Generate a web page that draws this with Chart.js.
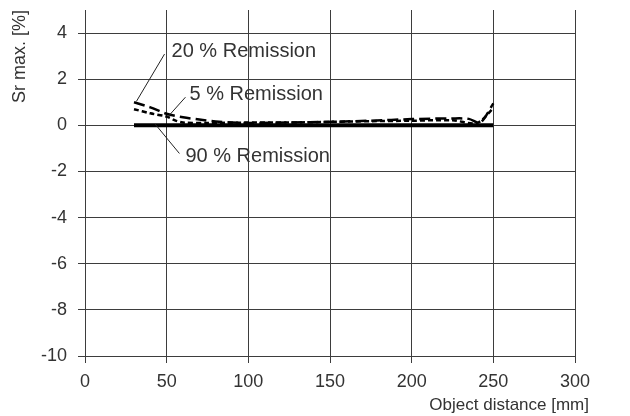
<!DOCTYPE html>
<html>
<head>
<meta charset="utf-8">
<script src="https://cdn.jsdelivr.net/npm/chart.js@4/dist/chart.umd.min.js"></script>
<style>
  html, body { margin: 0; padding: 0; background: #fff; }
  canvas { display: block; }
</style>
</head>
<body>
<canvas id="c" width="630" height="416"></canvas>
<script>
// ---- Data ----
const xTickValues = [0, 50, 100, 150, 200, 250, 300];
const yTickValues = [-10, -8, -6, -4, -2, 0, 2, 4];

const remission20X = [30, 40, 50, 60, 70, 80, 90, 100, 125, 150, 175, 200, 225, 235, 242, 250];
const remission20Y = [1.0, 0.78, 0.5, 0.35, 0.25, 0.17, 0.12, 0.1, 0.12, 0.15, 0.2, 0.27, 0.3, 0.28, 0.12, 0.95];

const remission5X = [30, 40, 50, 55, 60, 75, 100, 125, 150, 175, 200, 225, 240, 250];
const remission5Y = [0.7, 0.52, 0.38, 0.22, 0.12, 0.1, 0.12, 0.12, 0.15, 0.18, 0.2, 0.22, 0.1, 0.75];

const remission90X = [30, 250];
const remission90Y = [0, 0];

const seriesLabels = ['20 % Remission', '5 % Remission', '90 % Remission'];
const xAxisTitle = 'Object distance [mm]';
const yAxisTitle = 'Sr max. [%]';

// ---- Build chart ----
const toPoints = (xs, ys) => xs.map((x, i) => ({ x: x, y: ys[i] }));

const TEXT = '#333';
const GRID = '#3d3d3d';
const FONT = 'Liberation Sans, Arial, sans-serif';

// annotation anchors in data units (text anchor, leader line from -> to)
const callouts = [
  { text: seriesLabels[0], tx: 53, ty: 3.2, from: [48.7, 3.09], to: [31.5, 1.04] },
  { text: seriesLabels[1], tx: 64, ty: 1.33, from: [61.5, 1.22], to: [50.5, 0.35] },
  { text: seriesLabels[2], tx: 61.5, ty: -1.35, from: [57.8, -1.22], to: [43, 0.05] }
];

const calloutPlugin = {
  id: 'callouts',
  afterDatasetsDraw(chart) {
    const { ctx, scales: { x, y } } = chart;
    ctx.save();
    ctx.strokeStyle = '#222';
    ctx.lineWidth = 1;
    ctx.fillStyle = TEXT;
    ctx.font = '20px ' + FONT;
    ctx.textAlign = 'left';
    ctx.textBaseline = 'middle';
    callouts.forEach(c => {
      ctx.beginPath();
      ctx.moveTo(x.getPixelForValue(c.from[0]), y.getPixelForValue(c.from[1]));
      ctx.lineTo(x.getPixelForValue(c.to[0]), y.getPixelForValue(c.to[1]));
      ctx.stroke();
      ctx.fillText(c.text, x.getPixelForValue(c.tx), y.getPixelForValue(c.ty));
    });
    // x axis title, right aligned below the tick labels
    ctx.font = '17px ' + FONT;
    ctx.textAlign = 'right';
    ctx.textBaseline = 'alphabetic';
    ctx.fillText(xAxisTitle, x.right + 14, chart.height - 6);
    ctx.restore();
  }
};

new Chart(document.getElementById('c'), {
  type: 'line',
  data: {
    datasets: [
      {
        label: seriesLabels[2],
        data: toPoints(remission90X, remission90Y),
        borderColor: '#000',
        borderWidth: 4,
        pointRadius: 0,
        tension: 0,
        fill: false,
        order: 0
      },
      {
        label: seriesLabels[0],
        data: toPoints(remission20X, remission20Y),
        borderColor: '#000',
        borderWidth: 2.5,
        borderDash: [11, 5],
        pointRadius: 0,
        tension: 0.3,
        fill: false,
        order: 1
      },
      {
        label: seriesLabels[1],
        data: toPoints(remission5X, remission5Y),
        borderColor: '#000',
        borderWidth: 2.5,
        borderDash: [5, 3],
        pointRadius: 0,
        tension: 0.3,
        fill: false,
        order: 2
      }
    ]
  },
  options: {
    responsive: false,
    animation: false,
    devicePixelRatio: 1,
    layout: { padding: { left: 0, right: 55, top: 10, bottom: 0 } },
    plugins: {
      legend: { display: false },
      tooltip: { enabled: false }
    },
    scales: {
      x: {
        type: 'linear',
        min: 0,
        max: 300,
        afterBuildTicks: s => { s.ticks = xTickValues.map(v => ({ value: v })); },
        afterFit: s => { s.height = 60; s.paddingLeft = 0; s.paddingRight = 0; },
        ticks: {
          color: TEXT,
          font: { family: FONT, size: 18 },
          padding: 8,
          maxRotation: 0
        },
        grid: { color: GRID, lineWidth: 1, tickLength: 7, drawTicks: true },
        border: { display: true, color: GRID, width: 1 }
      },
      y: {
        type: 'linear',
        min: -10,
        max: 5,
        afterBuildTicks: s => { s.ticks = yTickValues.map(v => ({ value: v })); },
        afterFit: s => { s.width = 85; s.paddingTop = 0; s.paddingBottom = 0; },
        ticks: {
          color: TEXT,
          font: { family: FONT, size: 18 },
          padding: 11
        },
        grid: { color: GRID, lineWidth: 1, tickLength: 7, drawTicks: true },
        border: { display: true, color: GRID, width: 1 },
        title: {
          display: true,
          text: yAxisTitle,
          align: 'end',
          color: TEXT,
          font: { family: FONT, size: 18 },
          padding: { top: 9, bottom: 0 }
        }
      }
    }
  },
  plugins: [calloutPlugin]
});
</script>
</body>
</html>
